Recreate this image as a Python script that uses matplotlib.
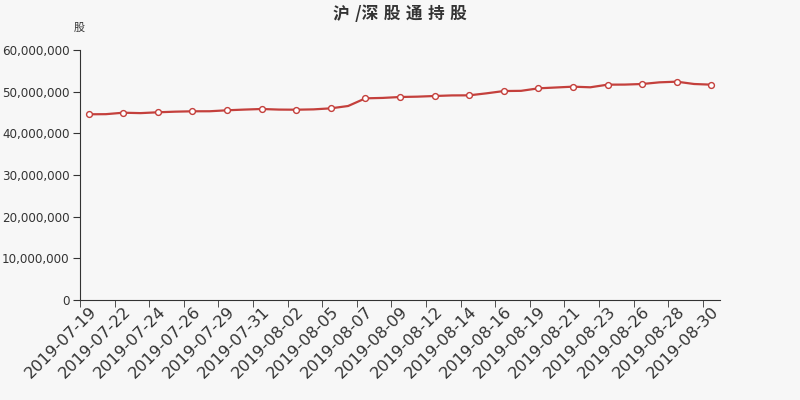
import matplotlib
matplotlib.use('Agg')
import matplotlib.pyplot as plt
from matplotlib.ticker import FuncFormatter

plt.rcParams['font.family'] = ['Noto Sans CJK SC', 'DejaVu Sans']

# trading days plus one weekend day per week (hidden labels)
dates = ['2019-07-19', '2019-07-21', '2019-07-22', '2019-07-23', '2019-07-24',
         '2019-07-25', '2019-07-26', '2019-07-28', '2019-07-29', '2019-07-30',
         '2019-07-31', '2019-08-01', '2019-08-02', '2019-08-04', '2019-08-05',
         '2019-08-06', '2019-08-07', '2019-08-08', '2019-08-09', '2019-08-11',
         '2019-08-12', '2019-08-13', '2019-08-14', '2019-08-15', '2019-08-16',
         '2019-08-18', '2019-08-19', '2019-08-20', '2019-08-21', '2019-08-22',
         '2019-08-23', '2019-08-25', '2019-08-26', '2019-08-27', '2019-08-28',
         '2019-08-29', '2019-08-30']

holdings = [44570000, 44600000, 44950000, 44850000, 45050000, 45200000, 45290000,
            45300000, 45530000, 45700000, 45840000, 45700000, 45670000, 45750000,
            46000000, 46560000, 48400000, 48500000, 48720000, 48800000, 48960000,
            49100000, 49120000, 49600000, 50150000, 50200000, 50800000, 51000000,
            51200000, 51050000, 51680000, 51700000, 51840000, 52240000, 52400000,
            51840000, 51680000]

bg = '#f7f7f7'
red = '#c4403c'
axc = '#333333'

fig = plt.figure(figsize=(8, 4), dpi=100, facecolor=bg)
ax = fig.add_axes([0.1, 0.25, 0.8, 0.625], facecolor=bg)

x = list(range(len(dates)))
ax.plot(x, holdings, color=red, lw=1.6, zorder=3)
ax.plot(x[::2], holdings[::2], ls='none', marker='o', ms=4.2, mfc='white',
        mec=red, mew=1, zorder=4)

ax.set_xlim(-0.5, len(dates) - 0.5)
ax.set_ylim(0, 60000000)
ax.set_yticks(range(0, 60000001, 10000000))
ax.yaxis.set_major_formatter(FuncFormatter(lambda v, p: '{:,.0f}'.format(v)))

ax.set_xticks(x[::2])
ax.set_xticklabels(dates[::2], rotation=45, ha='right', va='top',
                   rotation_mode='anchor', fontsize=11.7, color=axc,
                   family='DejaVu Sans')
ax.set_xticks([i - 0.5 for i in x[::2]], minor=True)
ax.tick_params(axis='x', which='major', length=0, pad=3)
ax.tick_params(axis='x', which='minor', length=5, color=axc)
ax.tick_params(axis='y', length=5, pad=2.5, color=axc, labelsize=8.6,
               labelcolor=axc)
for lbl in ax.get_yticklabels():
    lbl.set_family('DejaVu Sans')

for s in ['top', 'right']:
    ax.spines[s].set_visible(False)
for s in ['left', 'bottom']:
    ax.spines[s].set_color(axc)

fig.text(0.5, 0.965, '沪\u2004/深\u2004股\u2004通\u2004持\u2004股', ha='center', va='center',
         fontsize=12, fontweight='bold', color=axc)
fig.text(0.099, 0.93, '股', ha='center', va='center', fontsize=8, color=axc)

fig.savefig('out.png', dpi=100, facecolor=bg)
